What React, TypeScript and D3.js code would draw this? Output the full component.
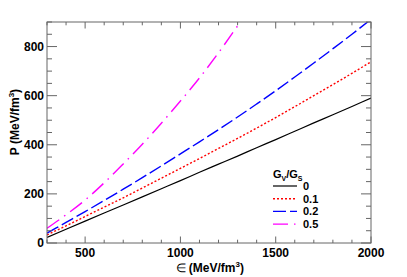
import { useMemo } from 'react';
import * as d3 from 'd3';

// energy density grid (MeV/fm^3)
const eps = [300, 400, 500, 600, 700, 800, 900, 1000, 1100, 1200, 1300, 1400, 1500, 1600, 1700, 1800, 1900, 2000];
// pressure for each G_V/G_S ratio
const p00 = [23, 56, 89, 122, 155, 188, 221, 254, 288, 321, 354, 388, 421, 455, 489, 522, 556, 590];
const p01 = [33, 70, 108, 146, 184, 224, 264, 304, 344, 385, 426, 468, 511, 555, 600, 645, 691, 738];
const p02 = [40, 84, 128, 173, 219, 266, 314, 363, 412, 462, 513, 566, 620, 676, 733, 791, 850, 911];
const p05 = [60, 115, 175, 245, 322, 402, 488, 578, 672, 775, 884, 995, 1110, 1230, 1350, 1475, 1600, 1730];

const ratioLabels = ['0', '0.1', '0.2', '0.5'];
const seriesColors = ['#000000', '#ff0000', '#0000ff', '#ff00ff'];
const seriesDash = ['none', '2,2', '13,4', '15,6,1.5,6'];

const xMajor = [500, 1000, 1500, 2000];
const yMajor = [0, 200, 400, 600, 800];

const W = 407;
const H = 277;
const m = { left: 47, right: 36, top: 22, bottom: 34 };
const font = '"Liberation Sans", Arial, Helvetica, sans-serif';

export default function App() {
  const x = useMemo(() => d3.scaleLinear().domain([300, 2000]).range([m.left, W - m.right]), []);
  const y = useMemo(() => d3.scaleLinear().domain([0, 900]).range([H - m.bottom, m.top]), []);

  const series = [p00, p01, p02, p05];
  const line = d3
    .line<number>()
    .x((_, i) => x(eps[i]))
    .y((d) => y(d))
    .curve(d3.curveMonotoneX);

  const [x0, x1] = x.range();
  const [y0, y1] = y.range();
  const xMinor = d3.range(300, 2001, 100).filter((v) => v % 500 !== 0);
  const yMinor = d3.range(0, 901, 50).filter((v) => v % 200 !== 0);
  const axisColor = '#666';

  const legX = 273;
  const legY = 186;
  const legStep = 12.7;

  return (
    <svg
      width={W}
      height={H}
      style={{ position: 'absolute', left: 0, top: 0, background: '#fff' }}
      fontFamily={font}
      fontWeight="bold"
    >
      <defs>
        <clipPath id="plot">
          <rect x={x0} y={y1} width={x1 - x0} height={y0 - y1} />
        </clipPath>
      </defs>

      <g clipPath="url(#plot)">
        {series.map((s, k) => (
          <path
            key={k}
            d={line(s) ?? ''}
            fill="none"
            stroke={seriesColors[k]}
            strokeWidth={k === 0 ? 1.2 : 1.4}
            strokeDasharray={seriesDash[k]}
          />
        ))}
      </g>

      {/* frame */}
      <rect x={x0} y={y1} width={x1 - x0} height={y0 - y1} fill="none" stroke={axisColor} strokeWidth={1} />

      {/* x ticks, bottom and top */}
      {xMajor.map((v) => (
        <g key={'xM' + v} stroke={axisColor}>
          <line x1={x(v)} x2={x(v)} y1={y0} y2={y0 - 6.5} />
          <line x1={x(v)} x2={x(v)} y1={y1} y2={y1 + 6.5} />
        </g>
      ))}
      {xMinor.map((v) => (
        <g key={'xm' + v} stroke={axisColor}>
          <line x1={x(v)} x2={x(v)} y1={y0} y2={y0 - 3.3} />
          <line x1={x(v)} x2={x(v)} y1={y1} y2={y1 + 3.3} />
        </g>
      ))}
      {/* y ticks, left and right */}
      {yMajor.map((v) => (
        <g key={'yM' + v} stroke={axisColor}>
          <line x1={x0} x2={x0 + 10} y1={y(v)} y2={y(v)} />
          <line x1={x1} x2={x1 - 10} y1={y(v)} y2={y(v)} />
        </g>
      ))}
      {yMinor.map((v) => (
        <g key={'ym' + v} stroke={axisColor}>
          <line x1={x0} x2={x0 + 5} y1={y(v)} y2={y(v)} />
          <line x1={x1} x2={x1 - 5} y1={y(v)} y2={y(v)} />
        </g>
      ))}

      {/* tick labels */}
      {xMajor.map((v) => (
        <text key={'xl' + v} x={x(v)} y={y0 + 13.5} textAnchor="middle" fontSize={12}>
          {v}
        </text>
      ))}
      {yMajor.map((v) => (
        <text key={'yl' + v} x={x0 - 3} y={y(v) + 4.3} textAnchor="end" fontSize={12}>
          {v}
        </text>
      ))}

      {/* axis titles */}
      <text x={244} y={272} textAnchor="end" fontSize={12}>
        <tspan fontWeight="normal">∈</tspan> (MeV/fm<tspan dy={-5} fontSize={8}>3</tspan>
        <tspan dy={5}>)</tspan>
      </text>
      <text transform="translate(19,122) rotate(-90)" textAnchor="middle" fontSize={12}>
        P (MeV/fm<tspan dy={-5} fontSize={8}>3</tspan>
        <tspan dy={5}>)</tspan>
      </text>

      {/* legend */}
      <text x={legX} y={legY - 8} fontSize={11}>
        G<tspan dy={2.5} fontSize={7}>V</tspan>
        <tspan dy={-2.5}>/G</tspan>
        <tspan dy={2.5} fontSize={7}>S</tspan>
      </text>
      {ratioLabels.map((lab, k) => (
        <g key={'lg' + k}>
          <line
            x1={legX}
            x2={legX + 24}
            y1={legY + k * legStep}
            y2={legY + k * legStep}
            stroke={seriesColors[k]}
            strokeWidth={k === 0 ? 1.2 : 1.4}
            strokeDasharray={seriesDash[k]}
          />
          <text x={legX + 30} y={legY + k * legStep + 4} fontSize={11}>
            {lab}
          </text>
        </g>
      ))}
    </svg>
  );
}
